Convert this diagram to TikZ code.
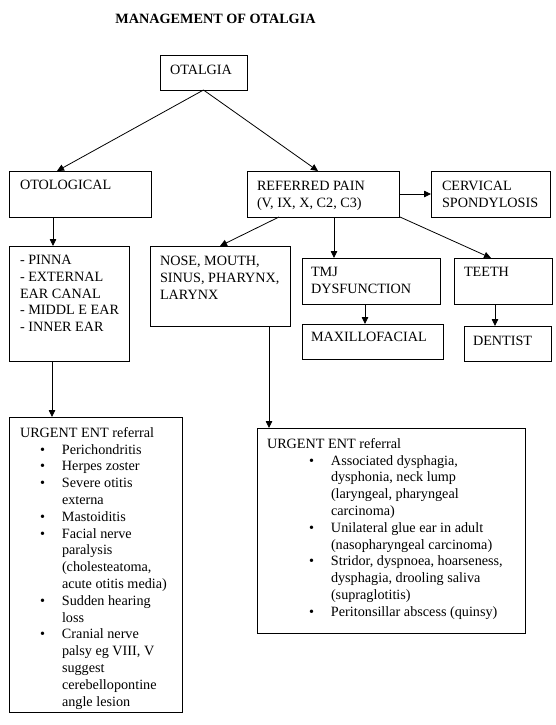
\documentclass[tikz,border=0pt]{standalone}
\usepackage{fontspec}
\setmainfont{Liberation Serif}
\usetikzlibrary{arrows.meta}
\newcommand{\lbul}[1]{\hspace*{20pt}\makebox[22pt][l]{\textbullet}#1}
\newcommand{\lcnt}[1]{\hspace*{42pt}#1}
\newcommand{\rbul}[1]{\hspace*{42pt}\makebox[22pt][l]{\textbullet}#1}
\newcommand{\rcnt}[1]{\hspace*{64pt}#1}
\begin{document}
\begin{tikzpicture}[x=1pt,y=-1pt,
  box/.style={draw, line width=0.8pt, inner sep=0pt, outer sep=0pt, anchor=north west},
  txt/.style={inner sep=0pt, outer sep=0pt, align=left, anchor=north west, font=\fontsize{14.2}{16.8}\selectfont},
  arr/.style={line width=0.8pt, -{Triangle[width=6.5pt,length=7pt]}}]
\useasboundingbox (0,0) rectangle (556,725);

% title
\node[inner sep=0pt, font=\fontsize{14.2}{16.8}\selectfont\bfseries] (title) at (215.5,18.6) {MANAGEMENT OF OTALGIA};

% boxes
\node[box, minimum width=87pt, minimum height=35pt] (otalgia) at (160,55) {};
\node[box, minimum width=142pt, minimum height=46pt] (otological) at (9,171) {};
\node[box, minimum width=152pt, minimum height=46pt] (referred) at (247,171) {};
\node[box, minimum width=119pt, minimum height=46pt] (cervical) at (431,171) {};
\node[box, minimum width=120pt, minimum height=115pt] (pinna) at (9,246) {};
\node[box, minimum width=140pt, minimum height=80pt] (nose) at (150,246) {};
\node[box, minimum width=138pt, minimum height=46pt] (tmj) at (302,258) {};
\node[box, minimum width=98pt, minimum height=46pt] (teeth) at (454,258) {};
\node[box, minimum width=141pt, minimum height=35pt] (maxillo) at (302,324) {};
\node[box, minimum width=87pt, minimum height=35pt] (dentist) at (464,326) {};
\node[box, minimum width=173pt, minimum height=295pt] (urgentL) at (9,417) {};
\node[box, minimum width=268pt, minimum height=205pt] (urgentR) at (257,428) {};

% texts
\node[txt] (otalgia-t) at (170,65.2) {OTALGIA};
\node[txt] (otological-t) at (20,180.2) {OTOLOGICAL};
\node[txt] (referred-t) at (257,181.2) {REFERRED PAIN\\(V, IX, X, C2, C3)};
\node[txt] (cervical-t) at (442,181.2) {CERVICAL\\SPONDYLOSIS};
\node[txt] (pinna-t) at (20,255.2) {- PINNA\\- EXTERNAL\\EAR CANAL\\- MIDDL E EAR\\- INNER EAR};
\node[txt] (nose-t) at (160,256.2) {NOSE, MOUTH,\\SINUS, PHARYNX,\\LARYNX};
\node[txt] (tmj-t) at (311,267.2) {TMJ\\DYSFUNCTION};
\node[txt] (teeth-t) at (464,267.2) {TEETH};
\node[txt] (maxillo-t) at (311,332.2) {MAXILLOFACIAL};
\node[txt] (dentist-t) at (473,336.2) {DENTIST};
\node[txt] (urgentL-t) at (20,427.2) {URGENT ENT referral\\
\lbul{Perichondritis}\\
\lbul{Herpes zoster}\\
\lbul{Severe otitis}\\
\lcnt{externa}\\
\lbul{Mastoiditis}\\
\lbul{Facial nerve}\\
\lcnt{paralysis}\\
\lcnt{(cholesteatoma,}\\
\lcnt{acute otitis media)}\\
\lbul{Sudden hearing}\\
\lcnt{loss}\\
\lbul{Cranial nerve}\\
\lcnt{palsy eg VIII, V}\\
\lcnt{suggest}\\
\lcnt{cerebellopontine}\\
\lcnt{angle lesion}};
\node[txt] (urgentR-t) at (267,438.2) {URGENT ENT referral\\
\rbul{Associated dysphagia,}\\
\rcnt{dysphonia, neck lump}\\
\rcnt{(laryngeal, pharyngeal}\\
\rcnt{carcinoma)}\\
\rbul{Unilateral glue ear in adult}\\
\rcnt{(nasopharyngeal carcinoma)}\\
\rbul{Stridor, dyspnoea, hoarseness,}\\
\rcnt{dysphagia, drooling saliva}\\
\rcnt{(supraglotitis)}\\
\rbul{Peritonsillar abscess (quinsy)}};

% connectors
\draw[arr] (otalgia.south) -- ([xshift=48pt]otological.north west);
\draw[arr] (otalgia.south) -- ([xshift=71pt]referred.north west);
\draw[arr] ([yshift=-23pt]referred.north east) -- ([yshift=-23pt]cervical.north west);
\draw[arr] ([xshift=44pt]otological.south west) -- ([xshift=44pt]pinna.north west);
\draw[arr] ([xshift=32pt]referred.south west) -- ([xshift=70pt]nose.north west);
\draw[arr] ([xshift=87pt]referred.south west) -- ([xshift=32pt]tmj.north west);
\draw[arr] ([xshift=1pt]referred.south east) -- ([xshift=37pt]teeth.north west);
\draw[arr] ([xshift=63pt]tmj.south west) -- ([xshift=63pt]maxillo.north west);
\draw[arr] ([xshift=41pt]teeth.south west) -- ([xshift=31pt]dentist.north west);
\draw[arr] ([xshift=43pt]pinna.south west) -- ([xshift=43pt]urgentL.north west);
\draw[arr] ([xshift=119pt]nose.south west) -- ([xshift=12pt]urgentR.north west);
\end{tikzpicture}
\end{document}
